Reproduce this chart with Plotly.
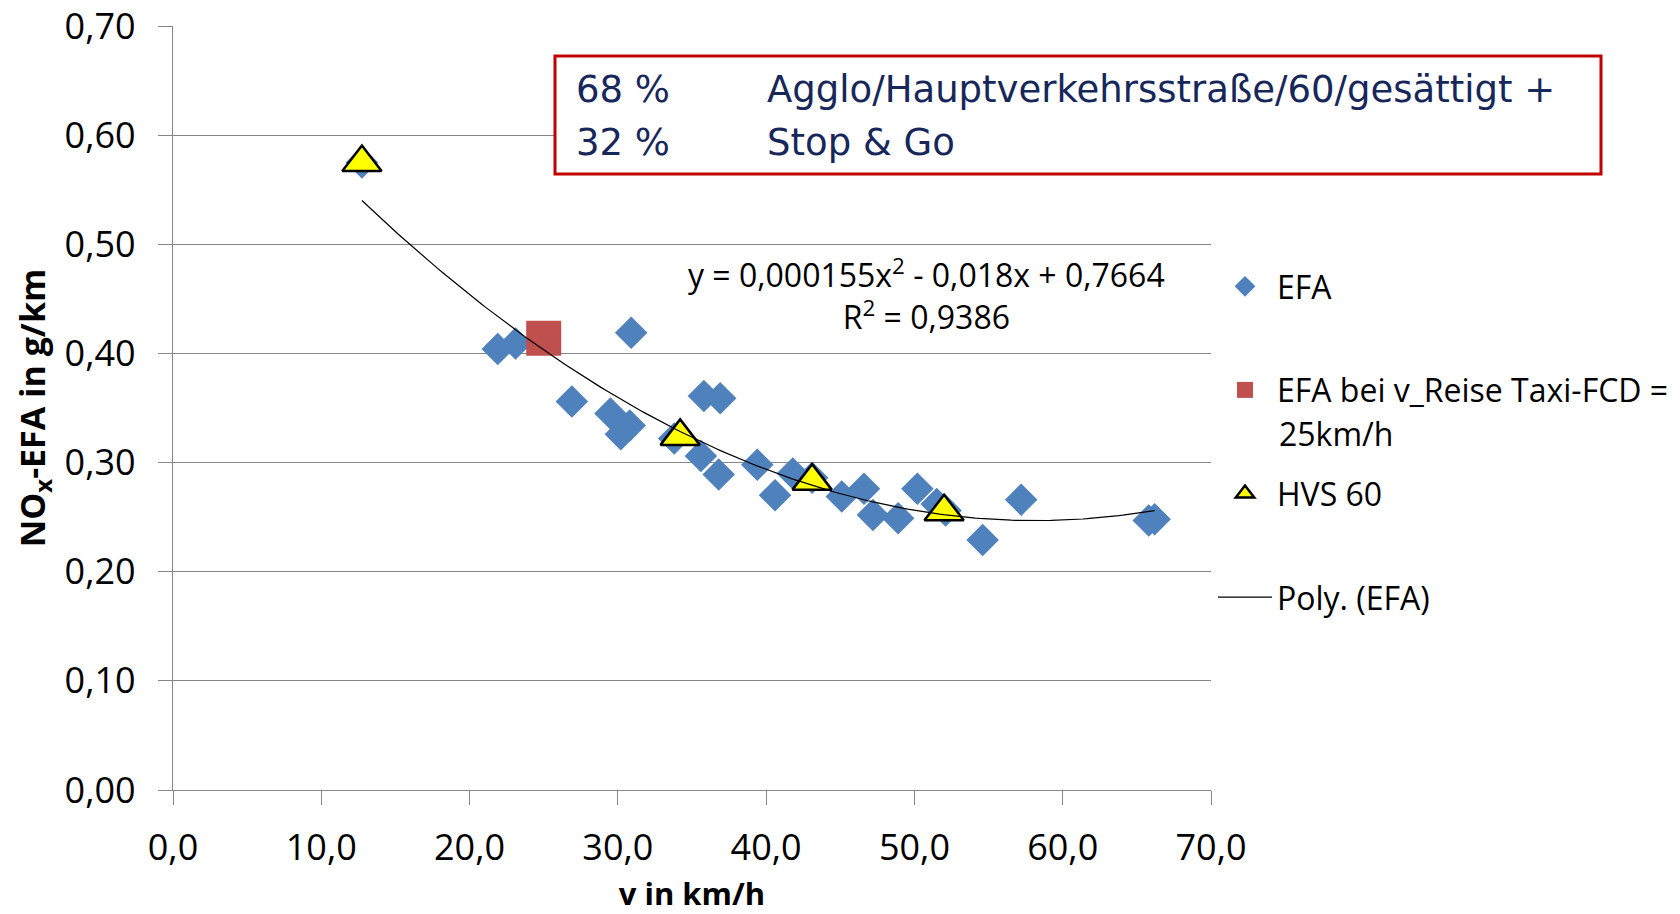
import numpy as np
import plotly.graph_objects as go

# ---- data ----
efa_v = [12.74, 21.9, 23.1, 30.9, 26.9, 29.5, 30.2, 30.8, 35.8, 36.9, 33.8, 35.6, 36.8,
         39.4, 40.6, 41.8, 43.1, 45.1, 46.6, 47.2, 48.9, 50.2, 51.5, 52.1, 54.6, 57.2,
         65.8, 66.2]
efa_nox = [0.575, 0.404, 0.409, 0.419, 0.356, 0.345, 0.326, 0.334, 0.361, 0.359, 0.322,
           0.306, 0.289, 0.298, 0.270, 0.290, 0.286, 0.269, 0.276, 0.252, 0.249, 0.276,
           0.262, 0.256, 0.229, 0.266, 0.247, 0.248]
taxi_v = [25.0]
taxi_nox = [0.414]
hvs_v = [12.74, 34.2, 43.1, 52.0]
hvs_nox = [0.575, 0.324, 0.283, 0.255]

x_ticks = [0, 10, 20, 30, 40, 50, 60, 70]
y_ticks = [0.0, 0.1, 0.2, 0.3, 0.4, 0.5, 0.6, 0.7]

names = ["EFA", "EFA bei v_Reise Taxi-FCD =", "HVS 60", "Poly. (EFA)"]
name2_cont = "25km/h"
equation_text = "y = 0,000155x<sup>2</sup> - 0,018x + 0,7664<br>R<sup>2</sup> = 0,9386"
box_pct = ["68 %", "32 %"]
box_txt = ["Agglo/Hauptverkehrsstraße/60/gesättigt +", "Stop & Go"]

# ---- quadratic trendline (as in the spreadsheet) ----
coef = np.polyfit(efa_v, efa_nox, 2)
tx = np.linspace(min(efa_v), max(efa_v), 200)
ty = np.polyval(coef, tx)

W, H = 1680, 914
ML, MR, MT, MB = 173, 469, 26, 124
PW, PH = W - ML - MR, H - MT - MB


def px(xp):
    return (xp - ML) / PW


def py(yp):
    return (H - MB - yp) / PH


fig = go.Figure()
fig.add_trace(go.Scatter(x=efa_v, y=efa_nox, mode="markers", name=names[0], legendgroup="a",
                         marker=dict(symbol="diamond", size=25, color="#4F81BD")))
fig.add_trace(go.Scatter(x=taxi_v, y=taxi_nox, mode="markers", name=names[1], legendgroup="b",
                         marker=dict(symbol="square", size=35, color="#C0504D")))
fig.add_trace(go.Scatter(x=hvs_v, y=hvs_nox, mode="markers", name=names[2], legendgroup="c",
                         marker=dict(symbol="triangle-up", size=34, color="#FFFF00",
                                     line=dict(color="black", width=2.5))))
fig.add_trace(go.Scatter(x=tx, y=ty, mode="lines", name=names[3], legendgroup="d",
                         line=dict(color="black", width=1.2)))

fig.add_annotation(x=50.8, y=0.454, xref="x", yref="y", text=equation_text, showarrow=False,
                   align="center", font=dict(family="Open Sans", size=32, color="black"))

# continuation line of the second legend label
fig.add_annotation(x=px(1277), y=py(433), xref="paper", yref="paper", text=name2_cont,
                   showarrow=False, xanchor="left", yanchor="middle",
                   font=dict(family="Open Sans", size=32, color="black"))

fig.add_shape(type="rect", xref="paper", yref="paper", x0=px(555), x1=px(1601),
              y0=py(174), y1=py(56), line=dict(color="#C00000", width=3),
              fillcolor="white", layer="above")
for i, yy in enumerate([89, 142]):
    fig.add_annotation(x=px(574), y=py(yy), xref="paper", yref="paper", text=box_pct[i],
                       showarrow=False, xanchor="left", yanchor="middle",
                       font=dict(family="DejaVu Sans", size=37, color="#17275A"))
    fig.add_annotation(x=px(765), y=py(yy), xref="paper", yref="paper", text=box_txt[i],
                       showarrow=False, xanchor="left", yanchor="middle",
                       font=dict(family="DejaVu Sans", size=37, color="#17275A"))

fig.update_layout(
    width=W, height=H,
    margin=dict(l=ML, r=MR, t=MT, b=MB, autoexpand=False),
    paper_bgcolor="white", plot_bgcolor="white",
    separators=",.",
    showlegend=True,
    legend=dict(x=px(1213), y=py(259), xanchor="left", yanchor="top",
                font=dict(family="Open Sans", size=32, color="black"),
                itemwidth=54, tracegroupgap=59, valign="middle",
                bgcolor="rgba(0,0,0,0)"),
    xaxis=dict(range=[0, 70], tickvals=x_ticks, tickformat=".1f", showgrid=False,
               showline=True, linecolor="#868686", linewidth=1.3, ticks="outside",
               ticklen=14, tickcolor="#868686", zeroline=False, automargin=True,
               tickfont=dict(family="Open Sans", size=36, color="black"),
               ticklabelstandoff=12,
               title=dict(text="<b>v in km/h</b>", standoff=14,
                          font=dict(family="Open Sans", size=31, color="black"))),
    yaxis=dict(range=[0, 0.7], tickvals=y_ticks, tickformat=".2f", showgrid=True,
               gridcolor="#868686", gridwidth=1.3, showline=True, linecolor="#868686",
               linewidth=1.3, ticks="outside", ticklen=14, tickcolor="#868686",
               zeroline=False, tickfont=dict(family="Open Sans", size=36, color="black"),
               ticklabelstandoff=15,
               title=dict(text="<b>NO<sub>x</sub>-EFA in g/km</b>", standoff=8,
                          font=dict(family="Open Sans", size=34, color="black"))),
)

fig.write_html("out.html")
